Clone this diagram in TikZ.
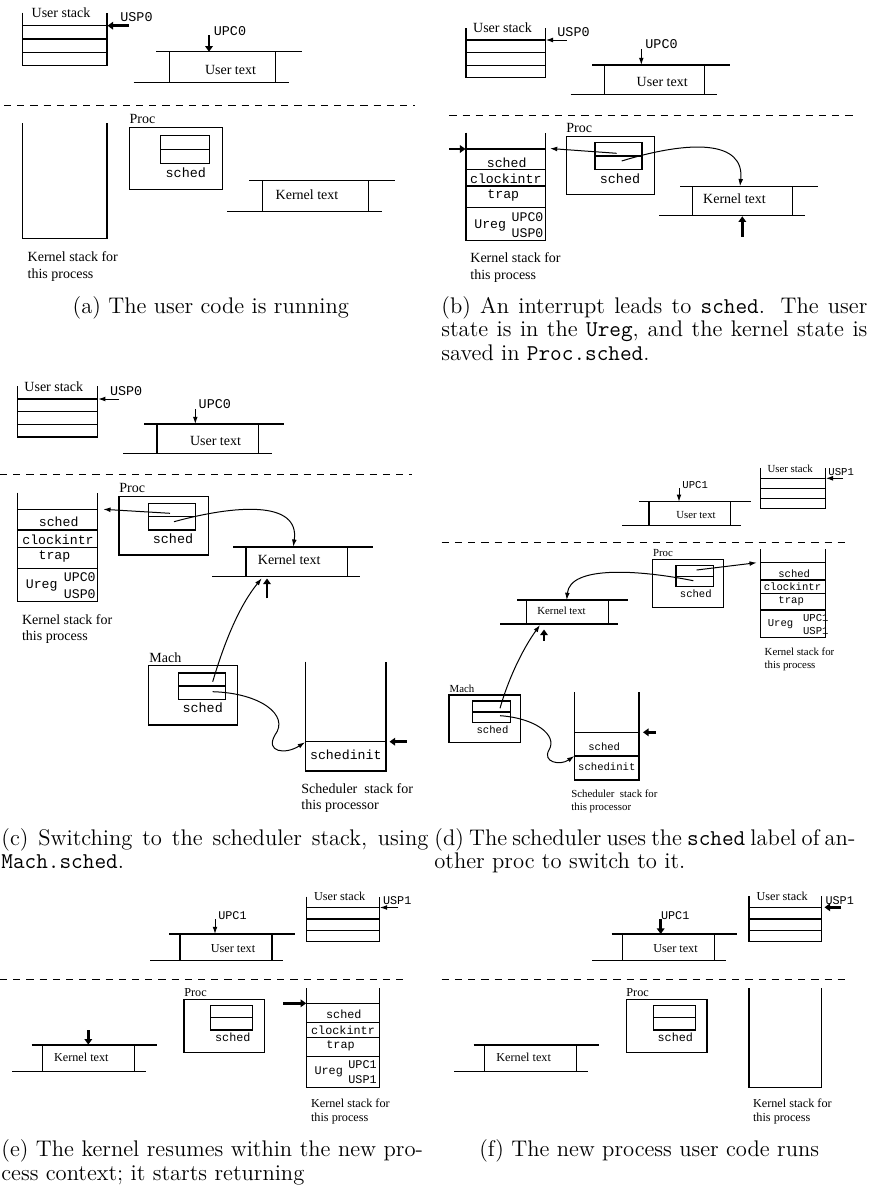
\documentclass[tikz,border=0pt]{standalone}
\usepackage{fontspec}
\newfontfamily\tms{Liberation Serif}
\newfontfamily\crr{Liberation Mono}
\usetikzlibrary{arrows.meta}
\newcommand{\txtseg}[8]{%
  \draw[ln] (#1,#3) -- (#1,#4);
  \draw[ln] (#2,#3) -- (#2,#4);
  \draw[ln] (#5,#3) -- (#6,#3);
  \draw[ln] (#7,#4) -- (#8,#4);}
\tikzset{
  ln/.style={line width=0.6pt},
  thn/.style={line width=0.5pt,-{Latex[length=3.6pt,width=2.4pt]}},
  thk/.style={line width=1.4pt,-{Triangle[length=2.8pt,width=3.8pt]}},
  dsh/.style={line width=0.5pt,dash pattern=on 3.6pt off 3pt},
  tx/.style={font=\tms\fontsize{#1}{#1}\selectfont,inner sep=0pt},
  tt/.style={font=\crr\fontsize{#1}{#1}\selectfont,inner sep=0pt},
  captxt/.style={font=\fontsize{11.3}{13}\selectfont,inner sep=0pt},
}
\begin{document}
\begin{tikzpicture}[x=0.5pt,y=-0.5pt]
\useasboundingbox (0,0) rectangle (872,1189);
\fill[white] (0,0) rectangle (872,1189);
% ================= (a) =================
\draw[ln] (22.3,12.7) -- (22.3,65.3) -- (107,65.3) -- (107,12.7);
\foreach \y in {25.7,39,52.3} \draw[ln] (22.3,\y) -- (107,\y);
\node[tx=7] (a-us) at (61,12.5) {User stack};
\coordinate (a-usp0) at (129,25.7); \coordinate (a-usp1) at (107.5,25.7);
\draw[thk] (a-usp0) -- (a-usp1);
\node[tt=6.7] (a-uspl) at (136.5,16.7) {USP0};
\node[tt=6.7] (a-upcl) at (230,31) {UPC0};
\coordinate (a-upc0) at (209,35); \coordinate (a-upc1) at (209,51.7);
\draw[thk] (a-upc0) -- (a-upc1);
\txtseg{169.3}{275.7}{51.7}{82.7}{156}{302}{133.7}{288.7}
\node[tx=7] (a-ut) at (230.5,70.3) {User text};
\draw[dsh] (4,105.3) -- (415,105.3);
\draw[ln] (22.3,123.3) -- (22.3,238.3) -- (107,238.3) -- (107,123.3);
\node[tx=7,anchor=base west] (a-ks1) at (27.3,261.5) {Kernel stack for};
\node[tx=7,anchor=base west] (a-ks2) at (27.3,278) {this process};
\node[tx=7,anchor=base west] (a-pl) at (129.3,123) {Proc};
\draw[ln] (129.3,127.3) rectangle (222.3,189.7);
\draw[ln] (160.3,135.3) rectangle (209.3,163.3);
\draw[ln] (160.3,149.3) -- (209.3,149.3);
\node[tt=6.7] (a-sch) at (185.8,172.7) {sched};
\txtseg{262.3}{368.7}{180.7}{211.7}{249.3}{395.3}{227}{381.7}
\node[tx=7] (a-kt) at (307,194.3) {Kernel text};
\node[captxt,anchor=base] (a-cap) at (210.8,313.3) {(a) The user code is running};
% ================= (b) =================
\draw[ln] (466,28.3) -- (466,77.7) -- (545.3,77.7) -- (545.3,28.3);
\foreach \y in {40,52.3,65.3} \draw[ln] (466,\y) -- (545.3,\y);
\node[tx=7] (b-us) at (502.5,27.7) {User stack};
\coordinate (b-usp0) at (566.7,40); \coordinate (b-usp1) at (545.8,40);
\draw[thn] (b-usp0) -- (b-usp1);
\node[tt=6.7] (b-uspl) at (573.5,32.3) {USP0};
\node[tt=6.7] (b-upcl) at (661.5,44.3) {UPC0};
\coordinate (b-upc0) at (641.3,49.3); \coordinate (b-upc1) at (641.3,65);
\draw[thn] (b-upc0) -- (b-upc1);
\txtseg{604.3}{704.7}{65}{94.3}{592}{729.7}{570.7}{717}
\node[tx=7] (b-ut) at (662.2,81.7) {User text};
\draw[dsh] (449.3,115.3) -- (856.7,115.3);
\draw[ln] (466,132.7) -- (466,240.7) -- (545.3,240.7) -- (545.3,132.7);
\foreach \y in {149,169.3,186,207.3} \draw[ln] (466,\y) -- (545.3,\y);
\coordinate (b-sp0) at (449.3,149); \coordinate (b-sp1) at (465.5,149);
\draw[thk] (b-sp0) -- (b-sp1);
\node[tt=6.6] (b-s1) at (506.7,162.3) {sched};
\node[tt=6.6] (b-s2) at (505.8,178.3) {clockintr};
\node[tt=6.6] (b-s3) at (503.3,195) {trap};
\node[tt=6.6] (b-s4) at (490.2,225.7) {Ureg};
\node[tt=6.6] (b-s5) at (527.5,216.7) {UPC0};
\node[tt=6.6] (b-s6) at (527.5,232.7) {USP0};
\node[tx=7,anchor=base west] (b-ks1) at (470,262.5) {Kernel stack for};
\node[tx=7,anchor=base west] (b-ks2) at (470,279) {this process};
\node[tx=7,anchor=base west] (b-pl) at (566,132.3) {Proc};
\draw[ln] (566.3,136.3) rectangle (654.3,194.7);
\draw[ln] (595,142.7) rectangle (642,169.3);
\draw[ln] (595,156) -- (642,156);
\node[tt=6.7] (b-sch) at (620,178.3) {sched};
\coordinate (b-p1) at (616.7,153.3); \coordinate (b-k1) at (550,148.5);
\draw[thn] (b-p1) -- (b-k1);
\coordinate (b-p2) at (621.7,161); \coordinate (b-kt1) at (740,186.2);
\draw[thn] (b-p2) .. controls (690,140) and (745,140) .. (b-kt1);
\txtseg{692.3}{792.3}{186.7}{215.7}{680}{817.7}{659}{805}
\node[tx=7] (b-kt) at (734.5,199) {Kernel text};
\coordinate (b-pc0) at (742.3,236.7); \coordinate (b-pc1) at (742.3,216.3);
\draw[thk] (b-pc0) -- (b-pc1);
\node[captxt,anchor=base west] (b-cap1) at (441,313.3) {\makebox[213pt][s]{(b) An interrupt leads to \texttt{sched}. The user}};
\node[captxt,anchor=base west] (b-cap2) at (441,336.8) {\makebox[213pt][s]{state is in the \texttt{Ureg}, and the kernel state is}};
\node[captxt,anchor=base west] (b-cap3) at (441,360.3) {saved in \texttt{Proc.sched}.};
% ================= (c) =================
\draw[ln] (17.3,386) -- (17.3,437) -- (97.7,437) -- (97.7,386);
\foreach \y in {399,411.7,424.3} \draw[ln] (17.3,\y) -- (97.7,\y);
\node[tx=7] (c-us) at (53.8,386.7) {User stack};
\coordinate (c-usp0) at (119,399); \coordinate (c-usp1) at (98.2,399);
\draw[thn] (c-usp0) -- (c-usp1);
\node[tt=6.7] (c-uspl) at (126.2,391) {USP0};
\node[tt=6.7] (c-upcl) at (214.8,404) {UPC0};
\coordinate (c-upc0) at (195.3,409); \coordinate (c-upc1) at (195.3,424);
\draw[thn] (c-upc0) -- (c-upc1);
\txtseg{157}{258.7}{424}{453.7}{144.3}{284}{123.3}{271.7}
\node[tx=7] (c-ut) at (215.5,441.3) {User text};
\draw[dsh] (0,474.7) -- (412.3,474.7);
\draw[ln] (17.3,492.7) -- (17.3,601.7) -- (97.7,601.7) -- (97.7,492.7);
\foreach \y in {509.3,530,547.3,568.3} \draw[ln] (17.3,\y) -- (97.7,\y);
\node[tt=6.6] (c-s1) at (58.7,522) {sched};
\node[tt=6.6] (c-s2) at (58,539.3) {clockintr};
\node[tt=6.6] (c-s3) at (54.5,556) {trap};
\node[tt=6.6] (c-s4) at (41.7,586) {Ureg};
\node[tt=6.6] (c-s5) at (79.8,577) {UPC0};
\node[tt=6.6] (c-s6) at (79.8,593.7) {USP0};
\node[tx=7,anchor=base west] (c-ks1) at (21.7,624.3) {Kernel stack for};
\node[tx=7,anchor=base west] (c-ks2) at (21.7,640.7) {this process};
\node[tx=7,anchor=base west] (c-pl) at (119,492.5) {Proc};
\draw[ln] (119,496.7) rectangle (208.3,555);
\draw[ln] (148.3,503.7) rectangle (195.7,530);
\draw[ln] (148.3,516.7) -- (195.7,516.7);
\node[tt=6.7] (c-sch) at (173,539) {sched};
\coordinate (c-p1) at (170,513.3); \coordinate (c-k1) at (103.3,509.3);
\draw[thn] (c-p1) -- (c-k1);
\coordinate (c-p2) at (174,521.7); \coordinate (c-kt1) at (293.3,546.7);
\draw[thn] (c-p2) .. controls (235,505) and (300,500) .. (c-kt1);
\txtseg{246}{347.7}{547}{576.7}{233.3}{372.7}{212.3}{360}
\node[tx=7] (c-kt) at (289.2,559.7) {Kernel text};
\coordinate (c-pc0) at (267,598.3); \coordinate (c-pc1) at (267,578.5);
\draw[thk] (c-pc0) -- (c-pc1);
\node[tx=7,anchor=base west] (c-ml) at (149,662) {Mach};
\draw[ln] (148.3,665.3) rectangle (237.7,725);
\draw[ln] (178.3,673) rectangle (225.3,699.3);
\draw[ln] (178.3,686) -- (225.3,686);
\node[tt=6.7] (c-msch) at (202.7,707.7) {sched};
\coordinate (c-m1) at (212.7,681.7); \coordinate (c-kb) at (261.7,578.3);
\draw[thn] (c-m1) .. controls (225,640) and (240,605) .. (c-kb);
\coordinate (c-m2) at (212.7,691.7); \coordinate (c-ss) at (305,742.3);
\draw[thn] (c-m2) .. controls (260,693) and (290,715) .. (275,735) .. controls (265,752) and (285,755) .. (c-ss);
\draw[ln] (305.7,661.7) -- (305.7,771) -- (386,771) -- (386,661.7);
\draw[ln] (305.7,741.7) -- (386,741.7);
\node[tt=6.6] (c-si) at (345.8,755) {schedinit};
\coordinate (c-sp0) at (406.7,741.7); \coordinate (c-sp1) at (389.5,741.7);
\draw[thk] (c-sp0) -- (c-sp1);
\node[tx=7,anchor=base west] (c-ss1) at (301,793.3) {Scheduler\ \ stack for};
\node[tx=7,anchor=base west] (c-ss2) at (301,809.6) {this processor};
\node[captxt,anchor=base west] (c-cap1) at (1,845) {\makebox[213.5pt][s]{(c) Switching to the scheduler stack, using}};
\node[captxt,anchor=base west] (c-cap2) at (1,868.5) {\texttt{Mach.sched}.};
% ================= (d) =================
\draw[ln] (760.7,468.3) -- (760.7,508.3) -- (825.3,508.3) -- (825.3,468.3);
\foreach \y in {478.3,488.3,498.3} \draw[ln] (760.7,\y) -- (825.3,\y);
\node[tx=5.4] (d-us) at (790.2,469) {User stack};
\coordinate (d-usp0) at (842.7,478.3); \coordinate (d-usp1) at (825.8,478.3);
\draw[thn] (d-usp0) -- (d-usp1);
\node[tt=5.3] (d-uspl) at (841.2,471.7) {USP1};
\node[tt=5.3] (d-upcl) at (695.2,485) {UPC1};
\coordinate (d-upc0) at (679,488.3); \coordinate (d-upc1) at (679,501.7);
\draw[thn] (d-upc0) -- (d-upc1);
\txtseg{649}{730.7}{501.7}{525.7}{639}{750.7}{622}{740.7}
\node[tx=5.4] (d-ut) at (696,515.3) {User text};
\draw[dsh] (441.7,542.3) -- (846,542.3);
\draw[ln] (760.7,549.3) -- (760.7,637.3) -- (825.3,637.3) -- (825.3,549.3);
\foreach \y in {562.7,580,593.3,610} \draw[ln] (760.7,\y) -- (825.3,\y);
\node[tt=5.3] (d-s1) at (794.2,573.3) {sched};
\node[tt=5.3] (d-s2) at (792.5,587) {clockintr};
\node[tt=5.3] (d-s3) at (791.2,600.7) {trap};
\node[tt=5.3] (d-s4) at (780.5,624) {Ureg};
\node[tt=5.3] (d-s5) at (815.8,618) {UPC1};
\node[tt=5.3] (d-s6) at (815.8,630.7) {USP1};
\node[tx=5.4,anchor=base west] (d-ks1) at (764.3,655.5) {Kernel stack for};
\node[tx=5.4,anchor=base west] (d-ks2) at (764.3,668.5) {this process};
\node[tx=5.4,anchor=base west] (d-pl) at (652.7,556) {Proc};
\draw[ln] (652.3,559.3) rectangle (723.7,607.3);
\draw[ln] (676,565.3) rectangle (713.7,586.7);
\draw[ln] (676,576.7) -- (713.7,576.7);
\node[tt=5.3] (d-sch) at (695.8,593.7) {sched};
\coordinate (d-p1) at (696.7,570); \coordinate (d-k1) at (756.7,562.7);
\draw[thn] (d-p1) -- (d-k1);
\coordinate (d-p2) at (693.3,580.7); \coordinate (d-kt1) at (566.7,600);
\draw[thn] (d-p2) .. controls (640,570) and (570,565) .. (d-kt1);
\txtseg{526.7}{608.3}{600}{624}{517.3}{628.3}{500}{618.3}
\node[tx=5.4] (d-kt) at (561.5,610.3) {Kernel text};
\coordinate (d-pc0) at (544,640.7); \coordinate (d-pc1) at (544,629.5);
\draw[thk] (d-pc0) -- (d-pc1);
\node[tx=5.4,anchor=base west] (d-ml) at (449.3,692) {Mach};
\draw[ln] (449,695) rectangle (520.3,742.3);
\draw[ln] (472.7,701) rectangle (510.3,722.3);
\draw[ln] (472.7,712) -- (510.3,712);
\node[tt=5.3] (d-msch) at (492.5,729.3) {sched};
\coordinate (d-m1) at (500,708.3); \coordinate (d-kb) at (540,625);
\draw[thn] (d-m1) .. controls (508,680) and (522,650) .. (d-kb);
\coordinate (d-m2) at (500,715.7); \coordinate (d-ss) at (574.3,756);
\draw[thn] (d-m2) .. controls (535,718) and (558,735) .. (549,750) .. controls (542,762) and (560,766) .. (d-ss);
\draw[ln] (574.3,692.3) -- (574.3,780) -- (639,780) -- (639,692.3);
\draw[ln] (574.3,732.3) -- (639,732.3);
\draw[ln] (574.3,756) -- (639,756);
\node[tt=5.3] (d-sc) at (604.2,746.7) {sched};
\node[tt=5.3] (d-si) at (606.8,766.7) {schedinit};
\coordinate (d-sp0) at (656,732.3); \coordinate (d-sp1) at (643,732.3);
\draw[thk] (d-sp0) -- (d-sp1);
\node[tx=5.4,anchor=base west] (d-ss1) at (571,797.3) {Scheduler\ \ stack for};
\node[tx=5.4,anchor=base west] (d-ss2) at (571,810.5) {this processor};
\node[captxt,anchor=base west] (d-cap1) at (434,845) {\makebox[210.5pt][s]{(d) The scheduler uses the \texttt{sched} label of an-}};
\node[captxt,anchor=base west] (d-cap2) at (434,868.5) {other proc to switch to it.};
% ================= (e) =================
\draw[ln] (306.7,896.7) -- (306.7,941.7) -- (379.3,941.7) -- (379.3,896.7);
\foreach \y in {907.7,919,930.3} \draw[ln] (306.7,\y) -- (379.3,\y);
\node[tx=6.1] (e-us) at (339.7,896.7) {User stack};
\coordinate (e-usp0) at (398.3,907.5); \coordinate (e-usp1) at (379.8,907.5);
\draw[thn] (e-usp0) -- (e-usp1);
\node[tt=5.9] (e-uspl) at (397.2,900.7) {USP1};
\node[tt=5.9] (e-upcl) at (232.5,915.7) {UPC1};
\coordinate (e-upc0) at (215,919.3); \coordinate (e-upc1) at (215,934);
\draw[thn] (e-upc0) -- (e-upc1);
\txtseg{180}{272}{934}{960.7}{169}{295}{150}{283.3}
\node[tx=6.1] (e-ut) at (233,949) {User text};
\draw[dsh] (0,979.3) -- (406,979.3);
\draw[ln] (306.7,988.3) -- (306.7,1087.3) -- (379.3,1087.3) -- (379.3,988.3);
\foreach \y in {1003.3,1022.7,1037.7,1056.7} \draw[ln] (306.7,\y) -- (379.3,\y);
\node[tt=5.9] (e-s1) at (343.8,1014) {sched};
\node[tt=5.9] (e-s2) at (343,1030.7) {clockintr};
\node[tt=5.9] (e-s3) at (340.5,1045.7) {trap};
\node[tt=5.9] (e-s4) at (328.7,1072.3) {Ureg};
\node[tt=5.9] (e-s5) at (362.5,1065) {UPC1};
\node[tt=5.9] (e-s6) at (362.5,1080) {USP1};
\coordinate (e-sp0) at (283.3,1003.3); \coordinate (e-sp1) at (306.2,1003.3);
\draw[thk] (e-sp0) -- (e-sp1);
\node[tx=6.1,anchor=base west] (e-ks1) at (310.7,1107.5) {Kernel stack for};
\node[tx=6.1,anchor=base west] (e-ks2) at (310.7,1121.5) {this process};
\node[tx=6.1,anchor=base west] (e-pl) at (184,996.5) {Proc};
\draw[ln] (184,999.3) rectangle (264.3,1052.7);
\draw[ln] (210.7,1005.7) rectangle (252.7,1030);
\draw[ln] (210.7,1017.7) -- (252.7,1017.7);
\node[tt=5.9] (e-sch) at (232.8,1037.7) {sched};
\txtseg{42.3}{134.3}{1045}{1071.7}{31.7}{156.7}{12.3}{145.7}
\node[tx=6.1] (e-kt) at (81.3,1057.3) {Kernel text};
\coordinate (e-pc0) at (88.3,1030); \coordinate (e-pc1) at (88.3,1044.6);
\draw[thk] (e-pc0) -- (e-pc1);
\node[captxt,anchor=base west] (e-cap1) at (1,1156.5) {\makebox[210.8pt][s]{(e) The kernel resumes within the new pro-}};
\node[captxt,anchor=base west] (e-cap2) at (1,1180) {cess context; it starts returning};
% ================= (f) =================
\draw[ln] (749,896) -- (749,941.7) -- (821.7,941.7) -- (821.7,896);
\foreach \y in {907.3,919,930.3} \draw[ln] (749,\y) -- (821.7,\y);
\node[tx=6.1] (f-us) at (782.2,896) {User stack};
\coordinate (f-usp0) at (841,907.3); \coordinate (f-usp1) at (824.5,907.3);
\draw[thk] (f-usp0) -- (f-usp1);
\node[tt=5.9] (f-uspl) at (839.7,900.7) {USP1};
\node[tt=5.9] (f-upcl) at (675.2,915.7) {UPC1};
\coordinate (f-upc0) at (660.7,919.3); \coordinate (f-upc1) at (660.7,934);
\draw[thk] (f-upc0) -- (f-upc1);
\txtseg{622.7}{714.3}{934}{960.7}{611.7}{737.3}{592.3}{725.7}
\node[tx=6.1] (f-ut) at (675.5,949) {User text};
\draw[dsh] (441.7,979.3) -- (848.3,979.3);
\draw[ln] (749,988.3) -- (749,1087.3) -- (821.7,1087.3) -- (821.7,988.3);
\node[tx=6.1,anchor=base west] (f-ks1) at (752.7,1107.5) {Kernel stack for};
\node[tx=6.1,anchor=base west] (f-ks2) at (752.7,1121.5) {this process};
\node[tx=6.1,anchor=base west] (f-pl) at (626,996.5) {Proc};
\draw[ln] (626.3,999.3) rectangle (707,1052.7);
\draw[ln] (653.3,1005.7) rectangle (695.7,1030);
\draw[ln] (653.3,1017.7) -- (695.7,1017.7);
\node[tt=5.9] (f-sch) at (675.3,1037.7) {sched};
\txtseg{484.7}{576.7}{1045}{1071.7}{473.7}{599.3}{454.3}{588}
\node[tx=6.1] (f-kt) at (523.7,1057.3) {Kernel text};
\node[captxt,anchor=base] (f-cap) at (649.2,1156.5) {(f) The new process user code runs};
\end{tikzpicture}
\end{document}
